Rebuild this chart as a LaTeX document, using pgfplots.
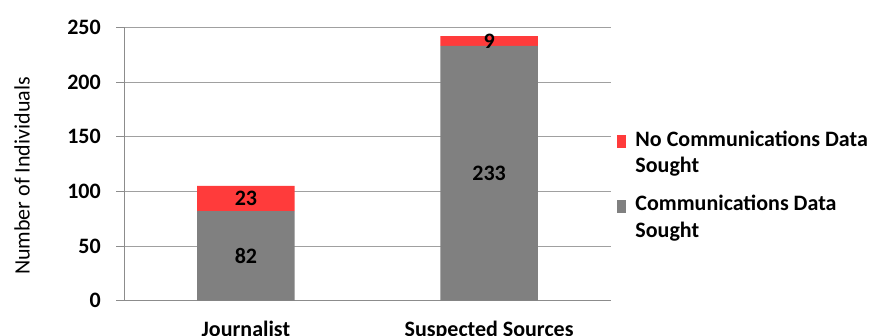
\documentclass[border=0pt]{standalone}
\usepackage{fontspec}
\setmainfont{Carlito}
\usepackage{pgfplots}
\usepackage{pgfplotstable}
\pgfplotsset{compat=1.18}
\definecolor{barred}{RGB}{255,59,59}
\definecolor{bargray}{RGB}{128,128,128}
\definecolor{gridc}{RGB}{160,160,160}
\definecolor{axisc}{RGB}{140,140,140}
% stacked values
\pgfplotstableread{
x val
0 82
1 233
}\sought
\pgfplotstableread{
x val
0 23
1 9
}\nosought
% label positions: middle of each stacked segment
\pgfplotstableread{
x mid lab
0 41    82
1 116.5 233
0 93.5  23
1 237.5 9
}\labels
\newcommand{\cfont}{\fontsize{22bp}{26.3bp}\selectfont}
\pgfplotsset{common/.style={
  scale only axis,
  x=243.2bp, y=1.0936bp,
  xmin=-0.5, xmax=1.5, ymin=0, ymax=250}}
\begin{document}
\begin{tikzpicture}
\begin{axis}[
  name=ax,
  common,
  ybar stacked, bar width=97.5bp,
  axis lines*=left,
  axis line style={draw=axisc, line width=0.9bp},
  ymajorgrids, grid style={draw=gridc, line width=0.9bp},
  tick align=outside,
  ytick={0,50,...,250},
  y tick style={draw=axisc, line width=0.9bp},
  major tick length=8bp,
  xtick={0,1}, xticklabels={Journalist, Suspected Sources},
  x tick style={draw=none},
  extra x ticks={-0.5,0.5,1.5}, extra x tick labels={},
  extra x tick style={tick style={draw=axisc, line width=0.9bp}, major tick length=6bp},
  /pgf/number format/assume math mode=true,
  yticklabel style={font=\cfont\bfseries, xshift=-12bp},
  xticklabel style={font=\cfont\bfseries, yshift=-9bp},
  ylabel={Number of Individuals},
  ylabel style={font=\cfont, at={(axis description cs:-0.21,0.456)}, anchor=center},
  legend style={at={(axis description cs:1.0125,0.628)}, anchor=north west, draw=none, fill=none,
    font=\cfont\bfseries, inner sep=0pt, row sep=17bp, cells={align=left},
    /tikz/every odd column/.append style={column sep=7bp}},
  legend cell align=left,
  legend image code/.code={\path[#1, draw=none] (0bp,4.5bp) rectangle (9.5bp,17.5bp);},
  reverse legend,
]
\addplot[fill=bargray, draw=none] table[x=x, y=val] {\sought};
\addlegendentry{Communications Data\\Sought}
\addplot[fill=barred, draw=none] table[x=x, y=val] {\nosought};
\addlegendentry{No Communications Data\\Sought}
\end{axis}
\begin{axis}[common, hide axis]
\addplot[draw=none, mark=none, nodes near coords, point meta=explicit symbolic,
  nodes near coords style={font=\cfont\bfseries, anchor=center, text=black, inner sep=0pt}]
  table[x=x, y=mid, meta=lab] {\labels};
\end{axis}
\pgfresetboundingbox
\path[use as bounding box] ([xshift=-124.3bp,yshift=-35.3bp]ax.south west) rectangle ([xshift=750.7bp,yshift=300.7bp]ax.south west);
\end{tikzpicture}
\end{document}
